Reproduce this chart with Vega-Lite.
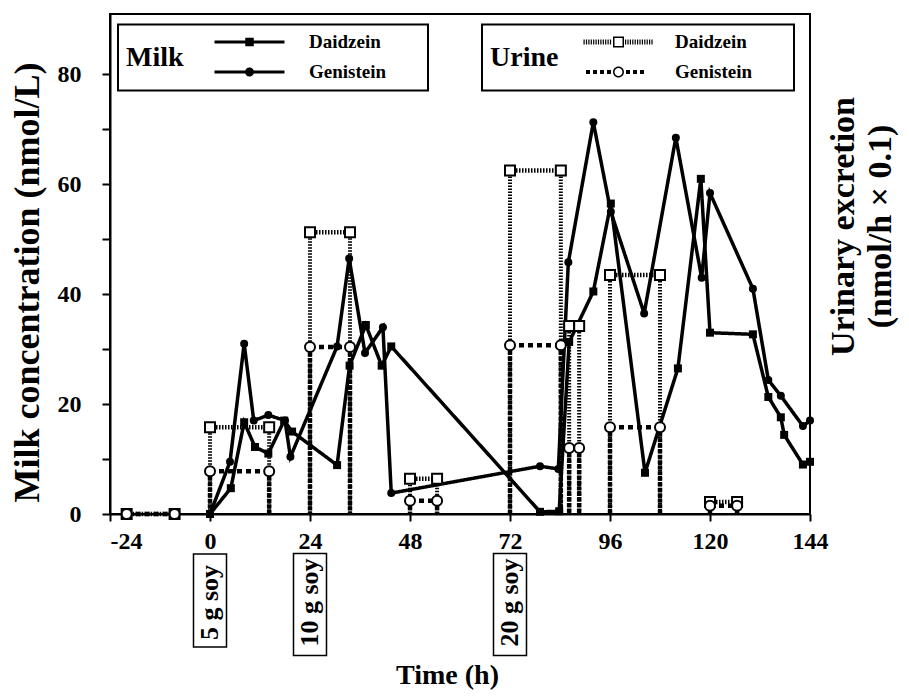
{
  "$schema": "https://vega.github.io/schema/vega-lite/v6.json",
  "width": 700,
  "height": 500,
  "autosize": "none",
  "padding": {"left": 110, "top": 14, "right": 99, "bottom": 182},
  "background": "white",
  "config": {
    "font": "Liberation Serif",
    "view": {"stroke": "black", "strokeWidth": 2},
    "axis": {"grid": false}
  },
  "datasets": {
    "milk": [
      {"t": 0, "v": 0, "compound": "Daidzein"},
      {"t": 5, "v": 4.7, "compound": "Daidzein"},
      {"t": 8.2, "v": 16.7, "compound": "Daidzein"},
      {"t": 10.8, "v": 12.2, "compound": "Daidzein"},
      {"t": 14, "v": 11, "compound": "Daidzein"},
      {"t": 17.8, "v": 17, "compound": "Daidzein"},
      {"t": 19.7, "v": 15, "compound": "Daidzein"},
      {"t": 30.5, "v": 8.9, "compound": "Daidzein"},
      {"t": 33.5, "v": 27, "compound": "Daidzein"},
      {"t": 37.4, "v": 34.4, "compound": "Daidzein"},
      {"t": 41.2, "v": 27, "compound": "Daidzein"},
      {"t": 43.5, "v": 30.5, "compound": "Daidzein"},
      {"t": 79.2, "v": 0.4, "compound": "Daidzein"},
      {"t": 83.8, "v": 0.5, "compound": "Daidzein"},
      {"t": 86.2, "v": 31.3, "compound": "Daidzein"},
      {"t": 92, "v": 40.5, "compound": "Daidzein"},
      {"t": 96.2, "v": 56.5, "compound": "Daidzein"},
      {"t": 104.4, "v": 7.5, "compound": "Daidzein"},
      {"t": 112.3, "v": 26.5, "compound": "Daidzein"},
      {"t": 117.8, "v": 61, "compound": "Daidzein"},
      {"t": 120, "v": 33, "compound": "Daidzein"},
      {"t": 130.3, "v": 32.7, "compound": "Daidzein"},
      {"t": 134, "v": 21.3, "compound": "Daidzein"},
      {"t": 137, "v": 17.6, "compound": "Daidzein"},
      {"t": 137.8, "v": 14.4, "compound": "Daidzein"},
      {"t": 142.3, "v": 9, "compound": "Daidzein"},
      {"t": 144, "v": 9.5, "compound": "Daidzein"},
      {"t": 0, "v": 0, "compound": "Genistein"},
      {"t": 4.8, "v": 9.5, "compound": "Genistein"},
      {"t": 8.2, "v": 31, "compound": "Genistein"},
      {"t": 10.5, "v": 17, "compound": "Genistein"},
      {"t": 14, "v": 18, "compound": "Genistein"},
      {"t": 18, "v": 17, "compound": "Genistein"},
      {"t": 19.3, "v": 10.4, "compound": "Genistein"},
      {"t": 30.5, "v": 30.5, "compound": "Genistein"},
      {"t": 33.4, "v": 46.5, "compound": "Genistein"},
      {"t": 37.2, "v": 29.3, "compound": "Genistein"},
      {"t": 41.5, "v": 34, "compound": "Genistein"},
      {"t": 43.5, "v": 3.8, "compound": "Genistein"},
      {"t": 79.2, "v": 8.7, "compound": "Genistein"},
      {"t": 83.6, "v": 8.2, "compound": "Genistein"},
      {"t": 86, "v": 45.8, "compound": "Genistein"},
      {"t": 92, "v": 71.3, "compound": "Genistein"},
      {"t": 96.2, "v": 55, "compound": "Genistein"},
      {"t": 104.2, "v": 36.5, "compound": "Genistein"},
      {"t": 111.8, "v": 68.5, "compound": "Genistein"},
      {"t": 118, "v": 43, "compound": "Genistein"},
      {"t": 120, "v": 58.4, "compound": "Genistein"},
      {"t": 130.3, "v": 41, "compound": "Genistein"},
      {"t": 134, "v": 24.4, "compound": "Genistein"},
      {"t": 137, "v": 21.5, "compound": "Genistein"},
      {"t": 142.3, "v": 16, "compound": "Genistein"},
      {"t": 144, "v": 17, "compound": "Genistein"}
    ],
    "urine": [
      {"t0": -20, "t1": -8.5, "u": 0, "compound": "Daidzein"},
      {"t0": 0, "t1": 14.2, "u": 15.8, "compound": "Daidzein"},
      {"t0": 24, "t1": 33.6, "u": 51.3, "compound": "Daidzein"},
      {"t0": 48, "t1": 54.5, "u": 6.4, "compound": "Daidzein"},
      {"t0": 72, "t1": 84.2, "u": 62.5, "compound": "Daidzein"},
      {"t0": 86.2, "t1": 88.6, "u": 34.2, "compound": "Daidzein"},
      {"t0": 96, "t1": 108, "u": 43.5, "compound": "Daidzein"},
      {"t0": 120, "t1": 126.5, "u": 2.2, "compound": "Daidzein"},
      {"t0": -20, "t1": -8.5, "u": 0, "compound": "Genistein"},
      {"t0": 0, "t1": 14.2, "u": 7.8, "compound": "Genistein"},
      {"t0": 24, "t1": 33.6, "u": 30.4, "compound": "Genistein"},
      {"t0": 48, "t1": 54.5, "u": 2.4, "compound": "Genistein"},
      {"t0": 72, "t1": 84.2, "u": 30.7, "compound": "Genistein"},
      {"t0": 86.2, "t1": 88.6, "u": 12, "compound": "Genistein"},
      {"t0": 96, "t1": 108, "u": 15.8, "compound": "Genistein"},
      {"t0": 120, "t1": 126.5, "u": 1.5, "compound": "Genistein"}
    ],
    "soy": [
      {"t": 0, "label": "5 g soy"},
      {"t": 24, "label": "10 g soy"},
      {"t": 72, "label": "20 g soy"}
    ]
  },
  "resolve": {"scale": {"y": "independent", "shape": "independent", "strokeDash": "independent"}},
  "layer": [
    {
      "data": {"name": "urine"},
      "layer": [
        {
          "transform": [
            {"filter": "datum.compound == 'Genistein'"},
            {"fold": ["t0", "t1"], "as": ["edge", "tt"]}
          ],
          "mark": {"type": "rule", "strokeWidth": 4.5, "strokeDash": [4, 1.5], "color": "black"},
          "encoding": {
            "x": {"field": "tt", "type": "quantitative", "scale": {"domain": [-24, 144], "nice": false, "zero": false}},
            "y": {
              "field": "u", "type": "quantitative",
              "scale": {"domain": [0, 91], "nice": false, "zero": false},
              "axis": {
                "orient": "right",
                "title": ["Urinary excretion", "(nmol/h × 0.1)"],
                "labels": false, "ticks": false, "domain": false, "grid": false,
                "titleAngle": 270, "titleFont": "Liberation Serif", "titleFontSize": 34,
                "titleFontWeight": "bold", "titleColor": "black", "titleLineHeight": 37,
                "titleBaseline": "middle", "titleAlign": "center", "titleX": 33, "titleY": 212
              }
            },
            "y2": {"datum": 0}
          }
        },
        {
          "transform": [
            {"filter": "datum.compound == 'Daidzein'"},
            {"fold": ["t0", "t1"], "as": ["edge", "tt"]}
          ],
          "mark": {"type": "rule", "strokeWidth": 4, "strokeDash": [1.5, 1.5], "color": "black"},
          "encoding": {
            "x": {"field": "tt", "type": "quantitative", "scale": {"domain": [-24, 144], "nice": false, "zero": false}},
            "y": {"field": "u", "type": "quantitative", "scale": {"domain": [0, 91], "nice": false, "zero": false}},
            "y2": {"datum": 0}
          }
        },
        {
          "mark": {"type": "rule", "strokeWidth": 4.5, "color": "black"},
          "encoding": {
            "x": {"field": "t0", "type": "quantitative", "scale": {"domain": [-24, 144], "nice": false, "zero": false}},
            "x2": {"field": "t1"},
            "y": {"field": "u", "type": "quantitative", "scale": {"domain": [0, 91], "nice": false, "zero": false}},
            "strokeDash": {
              "field": "compound", "type": "nominal",
              "scale": {"domain": ["Daidzein", "Genistein"], "range": [[1.5, 1.5], [5, 4]]},
              "legend": {
                "title": "Urine",
                "orient": "none", "legendX": 372, "legendY": 10.5,
                "direction": "vertical",
                "titleOrient": "left", "titleAnchor": "middle", "titleBaseline": "middle",
                "titleFont": "Liberation Serif", "titleFontSize": 28, "titleFontWeight": "bold", "titleColor": "black", "titlePadding": 25,
                "labelFont": "Liberation Serif", "labelFontSize": 19, "labelFontWeight": "bold", "labelColor": "black",
                "labelOffset": 47, "symbolSize": 100, "symbolOffset": 25,
                "rowPadding": 10, "padding": 8,
                "strokeColor": "black", "fillColor": "white",
                "labelExpr": "datum.label + '\u00a0\u00a0\u00a0\u00a0\u00a0\u00a0\u00a0\u200b'",
                "encoding": {
                  "symbols": {
                    "shape": {"value": {"expr": "datum.value == 'Daidzein' ? 'M-7,-0.5h0.24v1h-0.24zM-6.52,-0.5h0.24v1h-0.24zM-6.04,-0.5h0.24v1h-0.24zM-5.56,-0.5h0.24v1h-0.24zM-5.08,-0.5h0.24v1h-0.24zM-4.6,-0.5h0.24v1h-0.24zM-4.12,-0.5h0.24v1h-0.24zM-3.64,-0.5h0.24v1h-0.24zM-3.16,-0.5h0.24v1h-0.24zM-2.68,-0.5h0.24v1h-0.24zM-2.2,-0.5h0.24v1h-0.24zM-1.72,-0.5h0.24v1h-0.24zM1.3,-0.5h0.24v1h-0.24zM1.78,-0.5h0.24v1h-0.24zM2.26,-0.5h0.24v1h-0.24zM2.74,-0.5h0.24v1h-0.24zM3.22,-0.5h0.24v1h-0.24zM3.7,-0.5h0.24v1h-0.24zM4.18,-0.5h0.24v1h-0.24zM4.66,-0.5h0.24v1h-0.24zM5.14,-0.5h0.24v1h-0.24zM5.62,-0.5h0.24v1h-0.24zM6.1,-0.5h0.24v1h-0.24zM6.58,-0.5h0.24v1h-0.24zM-1.1,-1.1H1.1V1.1H-1.1ZM-0.8,-0.8V0.8H0.8V-0.8Z' : 'M-6.5,-0.4h0.8v0.8h-0.8zM-5.1,-0.4h0.8v0.8h-0.8zM-3.7,-0.4h0.8v0.8h-0.8zM-2.3,-0.4h0.8v0.8h-0.8zM1.5,-0.4h0.8v0.8h-0.8zM2.9,-0.4h0.8v0.8h-0.8zM4.3,-0.4h0.8v0.8h-0.8zM1.1,0A1.1,1.1,0,1,1,-1.1,0A1.1,1.1,0,1,1,1.1,0ZM0.8,0A0.8,0.8,0,1,0,-0.8,0A0.8,0.8,0,1,0,0.8,0Z'"}},
                    "fill": {"value": "black"},
                    "stroke": {"value": "transparent"},
                    "strokeWidth": {"value": 0},
                    "opacity": {"value": 1}
                  },
                  "legend": {"strokeWidth": {"value": 2}}
                }
              }
            }
          }
        }
      ]
    },
    {
      "layer": [
        {
          "data": {"name": "milk"},
          "mark": {"type": "line", "strokeWidth": 3.5, "color": "black"},
          "encoding": {
            "x": {
              "field": "t", "type": "quantitative",
              "scale": {"domain": [-24, 144], "nice": false, "zero": false},
              "axis": {
                "values": [-24, 0, 24, 48, 72, 96, 120, 144],
                "labelExpr": "'' + datum.value",
                "labelFlush": false,
                "labelAlign": {"condition": {"test": "datum.value == -24", "value": "left"}, "value": "center"},
                "domainColor": "black", "domainWidth": 2, "tickColor": "black", "tickWidth": 2, "tickSize": 7,
                "labelFont": "Liberation Serif", "labelFontSize": 24, "labelFontWeight": "bold", "labelColor": "black", "labelPadding": 8,
                "title": "Time (h)", "titleFont": "Liberation Serif", "titleFontSize": 28, "titleFontWeight": "bold", "titleColor": "black",
                "titleX": 337, "titleY": 161, "titleBaseline": "middle", "titleAlign": "center", "grid": false
              }
            },
            "y": {
              "field": "v", "type": "quantitative",
              "scale": {"domain": [0, 91], "nice": false, "zero": false},
              "axis": {
                "orient": "left",
                "title": "Milk concentration (nmol/L)",
                "values": [0, 10, 20, 30, 40, 50, 60, 70, 80],
                "labelExpr": "datum.value % 20 == 0 ? '' + datum.value : ''",
                "grid": false, "domainColor": "black", "domainWidth": 2, "tickColor": "black", "tickWidth": 2, "tickSize": 8,
                "labelFont": "Liberation Serif", "labelFontSize": 24, "labelFontWeight": "bold", "labelColor": "black", "labelPadding": 21,
                "titleFont": "Liberation Serif", "titleFontSize": 36, "titleFontWeight": "bold", "titleColor": "black",
                "titleAngle": 270, "titleBaseline": "middle", "titleAlign": "center", "titleX": -83, "titleY": 268
              }
            },
            "strokeDash": {
              "field": "compound", "type": "nominal",
              "scale": {"domain": ["Daidzein", "Genistein"], "range": [[1, 0], [1, 0]]},
              "legend": {
                "title": "Milk",
                "orient": "none", "legendX": 8, "legendY": 10.5,
                "direction": "vertical",
                "titleOrient": "left", "titleAnchor": "middle", "titleBaseline": "middle",
                "titleFont": "Liberation Serif", "titleFontSize": 28, "titleFontWeight": "bold", "titleColor": "black", "titlePadding": 31,
                "labelFont": "Liberation Serif", "labelFontSize": 19, "labelFontWeight": "bold", "labelColor": "black",
                "labelOffset": 50, "symbolSize": 100, "symbolOffset": 25,
                "rowPadding": 10, "padding": 8,
                "strokeColor": "black", "fillColor": "white",
                "labelExpr": "datum.label + '\u00a0\u00a0\u00a0\u00a0\u00a0\u00a0\u00a0\u200b'",
                "encoding": {
                  "symbols": {
                    "shape": {"value": {"expr": "datum.value == 'Daidzein' ? 'M-7,-0.3H7V0.3H-7ZM-0.85,-0.85H0.85V0.85H-0.85Z' : 'M-7,-0.3H7V0.3H-7ZM0.9,0A0.9,0.9,0,1,1,-0.9,0A0.9,0.9,0,1,1,0.9,0Z'"}},
                    "fill": {"value": "black"},
                    "stroke": {"value": "transparent"},
                    "strokeWidth": {"value": 0},
                    "opacity": {"value": 1}
                  },
                  "legend": {"strokeWidth": {"value": 2}}
                }
              }
            }
          }
        },
        {
          "data": {"name": "milk"},
          "transform": [{"filter": "datum.compound == 'Daidzein'"}],
          "mark": {"type": "point", "shape": "square", "filled": true, "color": "black", "size": 64, "opacity": 1},
          "encoding": {
            "x": {"field": "t", "type": "quantitative", "scale": {"domain": [-24, 144], "nice": false, "zero": false}},
            "y": {"field": "v", "type": "quantitative", "scale": {"domain": [0, 91], "nice": false, "zero": false}}
          }
        },
        {
          "data": {"name": "milk"},
          "transform": [{"filter": "datum.compound == 'Genistein'"}],
          "mark": {"type": "point", "shape": "circle", "filled": true, "color": "black", "size": 64, "opacity": 1},
          "encoding": {
            "x": {"field": "t", "type": "quantitative", "scale": {"domain": [-24, 144], "nice": false, "zero": false}},
            "y": {"field": "v", "type": "quantitative", "scale": {"domain": [0, 91], "nice": false, "zero": false}}
          }
        },
        {
          "data": {"name": "soy"},
          "transform": [{"filter": "datum.t == 0"}],
          "mark": {"type": "point", "shape": "M-0.355,-1H0.355V1H-0.355Z", "size": 8649, "filled": false, "stroke": "black", "strokeWidth": 1.5, "opacity": 1},
          "encoding": {
            "x": {"field": "t", "type": "quantitative", "scale": {"domain": [-24, 144], "nice": false, "zero": false}},
            "y": {"datum": -15.74, "type": "quantitative", "scale": {"domain": [0, 91], "nice": false, "zero": false}}
          }
        },
        {
          "data": {"name": "soy"},
          "transform": [{"filter": "datum.t != 0"}],
          "mark": {"type": "point", "shape": "M-0.3235,-1H0.3235V1H-0.3235Z", "size": 10404, "filled": false, "stroke": "black", "strokeWidth": 1.5, "opacity": 1},
          "encoding": {
            "x": {"field": "t", "type": "quantitative", "scale": {"domain": [-24, 144], "nice": false, "zero": false}},
            "y": {"datum": -16.47, "type": "quantitative", "scale": {"domain": [0, 91], "nice": false, "zero": false}}
          }
        },
        {
          "data": {"name": "soy"},
          "mark": {"type": "text", "angle": 270, "font": "Liberation Serif", "fontWeight": "bold", "fontSize": 26, "align": "center", "baseline": "middle", "color": "black"},
          "encoding": {
            "x": {"field": "t", "type": "quantitative", "scale": {"domain": [-24, 144], "nice": false, "zero": false}},
            "y": {"datum": -16.1, "type": "quantitative", "scale": {"domain": [0, 91], "nice": false, "zero": false}},
            "text": {"field": "label"}
          }
        }
      ]
    },
    {
      "data": {"name": "urine"},
      "transform": [{"fold": ["t0", "t1"], "as": ["edge", "tt"]}],
      "mark": {"type": "point", "filled": true, "fill": "white", "stroke": "black", "strokeWidth": 2, "size": 100, "opacity": 1},
      "encoding": {
        "x": {"field": "tt", "type": "quantitative", "scale": {"domain": [-24, 144], "nice": false, "zero": false}},
        "y": {"field": "u", "type": "quantitative", "scale": {"domain": [0, 91], "nice": false, "zero": false}, "axis": null},
        "shape": {
          "field": "compound", "type": "nominal",
          "scale": {"domain": ["Daidzein", "Genistein"], "range": ["square", "circle"]},
          "legend": null
        }
      }
    }
  ]
}
